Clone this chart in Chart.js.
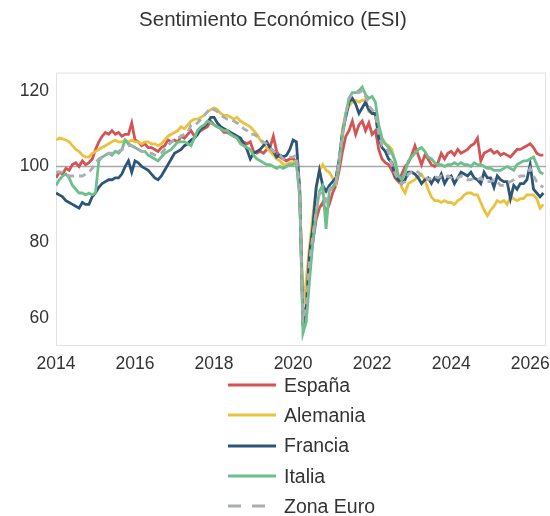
<!DOCTYPE html>
<html lang="es">
<head>
<meta charset="utf-8">
<script src="https://cdn.jsdelivr.net/npm/chart.js@4"></script>
<style>
  body { margin: 0; background: #fff; }
  #contenedor { position: relative; width: 550px; height: 516px; font-family: 'Liberation Sans', Arial, sans-serif; }
  #grafico { position: absolute; left: 0; top: 0; }
  #leyenda { position: absolute; left: 228px; top: 370px; margin: 0; padding: 0; list-style: none; }
  #leyenda li { height: 30.3px; display: flex; align-items: center; font-size: 19.5px; color: #333; }
  #leyenda svg { margin-right: 8px; }
</style>
</head>
<body>
<div id="contenedor">
  <canvas id="grafico" width="550" height="380"></canvas>
  <ul id="leyenda"></ul>
</div>
<script>
// Series mensuales desde enero 2014
const primerAnio = 2014;
const ticksAnios = [2014, 2016, 2018, 2020, 2022, 2024, 2026];
const ticksY = [60, 80, 100, 120];
const referencia = 100;

const espana = [
  97, 98.5, 98, 99.5, 99, 100.5, 101, 100, 101.5, 100.5, 101, 102,
  104.5, 106.5, 108, 109, 108.5, 109.5, 108.5, 109, 108, 108.5, 108.5, 111.5,
  107, 106.5, 105.5, 106, 105, 105, 104.5, 104, 105, 105.5, 107, 106.5,
  107, 106.5, 108, 107.5, 108.5, 109.5, 108, 109, 109.5, 110, 110.5, 112,
  111, 110.5, 110, 109, 109, 108.5, 108, 107.5, 107, 106.5, 106, 106.5,
  104, 103.5, 104, 103.5, 104.5, 105, 108, 104, 102.5, 102, 101.5, 102,
  102, 101.5, 93, 60, 63, 74, 80, 86, 89, 90.5, 88, 90,
  93, 95, 99, 104, 108, 109.5, 112, 108.5, 111, 112, 109.5, 111.5,
  108.5, 109.5, 104.5, 102, 101, 100.5, 99, 97, 96, 98, 100, 101,
  103, 105.5, 103, 100.5, 103, 102, 100.5, 100, 101, 103.5, 102, 103.5,
  104, 103, 104.5, 103.5, 104, 104.5, 105.5, 106, 107.5, 101.5, 103.5, 104,
  104.5, 103.5, 104, 103, 103.5, 103, 102.5, 103.5, 104.5, 104.5, 105, 105.5,
  106, 105, 103.5, 103, 103
];
const alemania = [
  107, 107.5, 107.3, 107, 106.5, 105.5, 104.5, 104, 103, 102.5, 102.5, 103.5,
  104, 104.5, 105, 105.5, 106, 106.5, 107, 106.5, 106.5, 107, 106.5, 107,
  106.5, 106.5, 106, 106.5, 106.5, 106, 106, 105.5, 106, 107, 108, 108.5,
  109, 109.5, 110.5, 110, 111, 112, 112.5, 112.5, 113, 113.5, 114.5, 115,
  115.5, 115, 114, 113.5, 113.5, 113, 112.5, 113, 112, 111.5, 111, 110.5,
  109.5, 108.5, 107, 106, 105, 104, 103, 102, 101.5, 100.5, 100.5, 101,
  101, 101.5, 95, 63, 70, 79, 87, 94, 99, 100.5, 99, 98.5,
  97, 95.5, 101, 110, 114, 116, 117, 117.5, 117, 117.5, 117.5, 114.5,
  114, 113.5, 108, 106.5, 106, 105.5, 104.5, 101, 97, 94.5, 93, 95.5,
  96, 96.5, 97.5, 98, 96.5, 94, 92, 91, 91, 90.5, 91, 90.5,
  90.5, 90, 91, 91.5, 92.5, 93, 93, 92.5, 92.5, 90.5, 88.5, 87,
  88.5, 89.5, 91, 90.5, 91, 90, 92, 91.5, 91, 91.5, 91.5, 92.5,
  92.5, 92.5, 91.5, 89, 90
];
const francia = [
  93, 92.5, 92, 91, 90.5, 90, 89.5, 89, 90.5, 90, 90, 92,
  93, 94.5, 95.5, 96, 96.5, 96.5, 97, 97, 98, 100, 101.5, 98.5,
  101.5, 101, 100, 99.5, 99, 98, 97, 96.5, 97.5, 99, 100.5, 102,
  103.5, 104, 104.5, 105.5, 106, 107, 107.5, 108.5, 110, 110.5, 111.5, 113,
  113, 111.5, 110.5, 110, 109.5, 109, 108.5, 108, 107.5, 106, 104.5, 102,
  103.5, 104, 104.5, 105.5, 106.5, 105, 104, 102.5, 103, 102.5, 103, 104.5,
  107, 106.5, 94, 58, 63, 77, 84, 94.5, 99, 95, 93.5, 95,
  96, 97, 102, 109, 113, 117, 118, 116.5, 114, 115.5, 117, 115,
  114, 114, 107.5, 105, 104, 102, 101, 97.5, 96.5, 95.5, 96.5, 98.5,
  98.5, 98, 97, 95.5, 96.5, 97, 95.5, 97, 96, 98, 95.5, 97,
  97.5, 95.5, 97, 98.5, 98, 97.5, 98.5, 97, 96.5, 95.5, 98.5, 97,
  97, 94.5, 97.5, 96.5, 96, 96, 91.5, 95, 94, 95.5, 95.5, 96.5,
  100.5, 94, 93, 92, 93
];
const italia = [
  95, 96.5, 97.5, 98, 97, 95, 94, 93, 93, 92.5, 93, 92.5,
  93, 101.5, 102.5, 103, 103.5, 103, 104, 103.5, 104.5, 107, 106, 105.5,
  105, 104.5, 104, 104, 103, 102.5, 102, 101.5, 102.5, 103.5, 104, 104.5,
  105.5, 106.5, 106.5, 106.5, 106, 105.5, 107.5, 109.5, 110.5, 111, 112, 111.5,
  111, 110.5, 110, 109.5, 109.5, 108.5, 108, 107.5, 106, 105.5, 105, 104.5,
  103, 102, 101.5, 101, 100.5, 100.5, 100, 99.5, 100, 99.5, 100, 100.5,
  100.5, 101, 92, 56, 59, 70, 80, 88, 93.5, 95, 83.5, 93.5,
  94.5, 96, 101, 108, 114, 118, 119.5, 119.5, 120, 121, 119, 118,
  118.5, 117, 111, 107.5, 106, 105, 103.5, 101.5, 97.5, 96.5, 98.5, 101.5,
  102.5, 103.5, 104.5, 105, 104, 102.5, 102, 101, 100.5, 100.5, 100, 100.5,
  100.5, 101, 100.5, 101, 100.5, 100.5, 100, 101, 100.5, 100.5, 100, 99.5,
  99.5, 99, 99, 99, 99.5, 100, 99.5, 99, 100.5, 101, 101.5, 101.5,
  102, 102.5, 100.5, 98.5, 98
];
const zonaEuro = [
  98.5, 98.5, 98.5, 98, 97.5, 97.5, 97.5, 97.5, 97.5, 98, 98.5, 99.5,
  101, 102, 102.5, 103, 103.5, 103.5, 103.5, 104, 104.5, 105, 105.5, 105.5,
  105, 104.5, 104, 104, 103.5, 103.5, 103, 103, 103.5, 104.5, 105.5, 106.5,
  107, 107.5, 108, 108.5, 109, 111, 111, 111.5, 112.5, 113.5, 114.5, 115.5,
  115, 114.5, 113.5, 113, 112.5, 112.5, 112, 111.5, 111, 110, 109.5, 108.5,
  108.5, 108, 107, 106.5, 106, 105, 104, 103.5, 103, 102, 102, 102.5,
  102.5, 103, 94, 59, 64, 75, 82, 88, 93, 93, 91, 94,
  95, 96, 102, 109, 114, 118, 119.5, 119.5, 119.5, 120, 118.5, 116,
  115, 114, 108.5, 105.5, 105, 104, 100.5, 98, 96.5, 95.5, 96, 98,
  98.5, 99, 98.5, 97.5, 97.5, 96.5, 97, 97.5, 97, 97.5, 97, 97.5,
  97, 96.5, 97, 97.5, 97, 96.5, 96.5, 97, 96.5, 97, 96, 96,
  96, 96.5, 96, 95, 95, 95.5, 96, 96.5, 97, 97.5, 97.5, 98,
  99.5, 97.5, 96, 95, 94.5
];

const xMin = 2014, xMax = 2026.4;
const yMin = 52.6, yMax = 124.8;

// valor mensual -> punto {x: año decimal, y}
function serie(valores) {
  return valores.map((v, i) => ({ x: primerAnio + i / 12, y: v }));
}

const series = [
  { label: 'España', datos: espana, color: '#d65353', dash: [] },
  { label: 'Alemania', datos: alemania, color: '#ebc23f', dash: [] },
  { label: 'Francia', datos: francia, color: '#2c5677', dash: [] },
  { label: 'Italia', datos: italia, color: '#6cc08b', dash: [] },
  { label: 'Zona Euro', datos: zonaEuro, color: '#a9adb4', dash: [7, 5] }
];

const datasets = series.map((s, i) => ({
  label: s.label,
  data: serie(s.datos),
  borderColor: s.color,
  borderWidth: 2.8,
  borderDash: s.dash,
  pointRadius: 0,
  tension: 0,
  order: series.length - i
}));

// linea de referencia en 100
datasets.push({
  label: 'ref',
  data: [{ x: xMin, y: referencia }, { x: xMax, y: referencia }],
  borderColor: '#a8a8a8',
  borderWidth: 1.5,
  pointRadius: 0,
  order: 10
});

const marcoPlugin = {
  id: 'marco',
  beforeDatasetsDraw(chart) {
    const { ctx, chartArea: a } = chart;
    ctx.save();
    ctx.strokeStyle = '#e2e2e2';
    ctx.lineWidth = 1;
    ctx.strokeRect(a.left + 0.5, a.top + 0.5, a.width - 1, a.height - 1);
    ctx.restore();
  }
};

Chart.defaults.font.family = "'Liberation Sans', Arial, sans-serif";
Chart.defaults.color = '#333';

new Chart(document.getElementById('grafico'), {
  type: 'line',
  data: { datasets: datasets },
  options: {
    responsive: false,
    animation: false,
    layout: { padding: { left: 0, right: 4, top: 0, bottom: 4 } },
    plugins: {
      legend: { display: false },
      tooltip: { enabled: false },
      title: {
        display: true,
        text: 'Sentimiento Económico (ESI)',
        font: { size: 20.5, weight: 'normal' },
        color: '#333',
        padding: { top: 8, bottom: 40 }
      }
    },
    scales: {
      x: {
        type: 'linear',
        min: xMin,
        max: xMax,
        grid: { display: false, drawTicks: false },
        border: { display: false },
        afterBuildTicks: (scale) => { scale.ticks = ticksAnios.map(v => ({ value: v })); },
        afterFit: (scale) => {
          scale.height = 30;
          scale.paddingLeft = 0;
          scale.paddingRight = 0;
        },
        ticks: {
          font: { size: 17.5 },
          color: '#333',
          padding: 8,
          maxRotation: 0,
          callback: (v) => String(v)
        }
      },
      y: {
        min: yMin,
        max: yMax,
        grid: { display: false, drawTicks: false },
        border: { display: false },
        afterBuildTicks: (scale) => { scale.ticks = ticksY.map(v => ({ value: v })); },
        afterFit: (scale) => { scale.width = 56; },
        ticks: {
          font: { size: 17.5 },
          color: '#333',
          padding: 7,
          callback: (v) => String(v)
        }
      }
    }
  },
  plugins: [marcoPlugin]
});

// leyenda vertical en HTML
const leyenda = document.getElementById('leyenda');
series.forEach(s => {
  const li = document.createElement('li');
  const dash = s.dash.length ? 'stroke-dasharray="13 11"' : '';
  li.innerHTML = '<svg width="48" height="6"><line x1="0" y1="3" x2="48" y2="3" stroke="' + s.color +
    '" stroke-width="3" ' + dash + '/></svg><span>' + s.label + '</span>';
  leyenda.appendChild(li);
});
</script>
</body>
</html>
